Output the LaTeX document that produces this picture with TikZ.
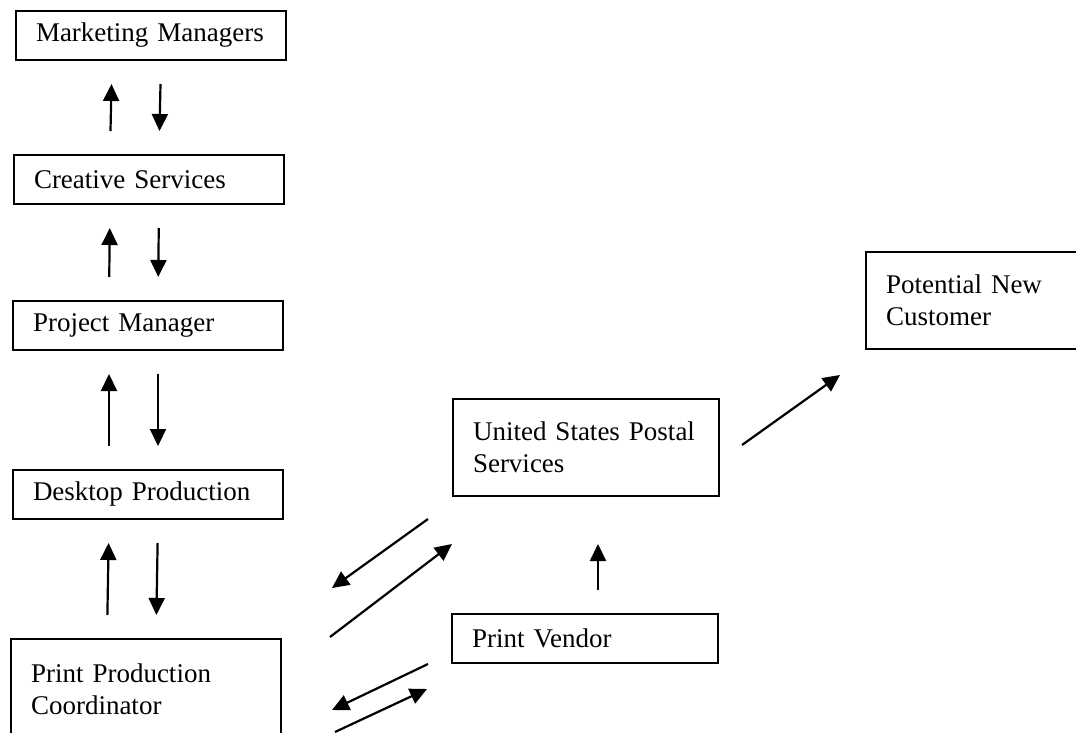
\documentclass[tikz,border=0pt]{standalone}
\usepackage{fontspec}
\setmainfont[WordSpace=0.7]{Liberation Serif}
\usetikzlibrary{arrows.meta,positioning,calc}

\begin{document}
\begin{tikzpicture}[
x=1pt,y=-1pt,
>={Triangle[length=17pt,width=16pt]},
box/.style={
	draw,
	rectangle,
	line width=2pt,
	anchor=north west,
	inner xsep=20pt,
	align=left,
	font=\fontsize{27}{32}\selectfont
},
flow/.style={
	->,
	line width=2.2pt,
	shorten <=23pt,
	shorten >=23pt
}
]
\useasboundingbox (0,0) rectangle (1076,733);
\clip (0,0) rectangle (1076,733);

\foreach \n/\x/\y/\t in {mm/15/10/Marketing Managers,cs/13/154/Creative Services,pm/12/300/Project Manager,dp/12/469/Desktop Production}
\node[box,text width=230pt,minimum height=49pt] (\n) at (\x,\y) {\t};

\node[box,text width=230pt,minimum height=100pt] (ppc) at (10,638) {Print Production\\Coordinator};
\node[box,text width=226pt,minimum height=97pt] (usps) at (452,398) {United States Postal\\Services};
\node[box,text width=226pt,minimum height=49pt] (pv) at (451,613) {Print Vendor};
\node[box,text width=200pt,minimum height=97pt] (pnc) at (865,251) {Potential New\\Customer};

\foreach \a/\b in {mm/cs,cs/pm,pm/dp,dp/ppc}
{
\draw[flow] ([xshift=97pt]\b.north west) -- ([xshift=97pt]\a.south west);
\draw[flow] ([xshift=146pt]\a.south west) -- ([xshift=146pt]\b.north west);
}

\draw[flow,shorten <=0pt,shorten >=0pt] ([shift={(-24,22)}]usps.south west) -- ([shift={(50,-50)}]ppc.north east);
\draw[flow,shorten <=0pt,shorten >=0pt] ([shift={(48,-1)}]ppc.north east) -- ([shift={(0,47)}]usps.south west);
\draw[flow,shorten <=0pt,shorten >=0pt] ([xshift=-23pt]pv.south west) -- ([shift={(50,72)}]ppc.north east);
\draw[flow,shorten <=0pt,shorten >=0pt] ([shift={(53,94)}]ppc.north east) -- ([shift={(-24,25)}]pv.south west);
\draw[flow,shorten >=47pt] ([xshift=13pt]pv.north) -- ([xshift=12pt]usps.south);
\draw[flow,shorten <=0pt,shorten >=0pt] ([shift={(22,47)}]usps.north east) -- ([shift={(-25,25)}]pnc.south west);
%\draw[flow] (usps) -- (pnc);
\end{tikzpicture}
\end{document}
